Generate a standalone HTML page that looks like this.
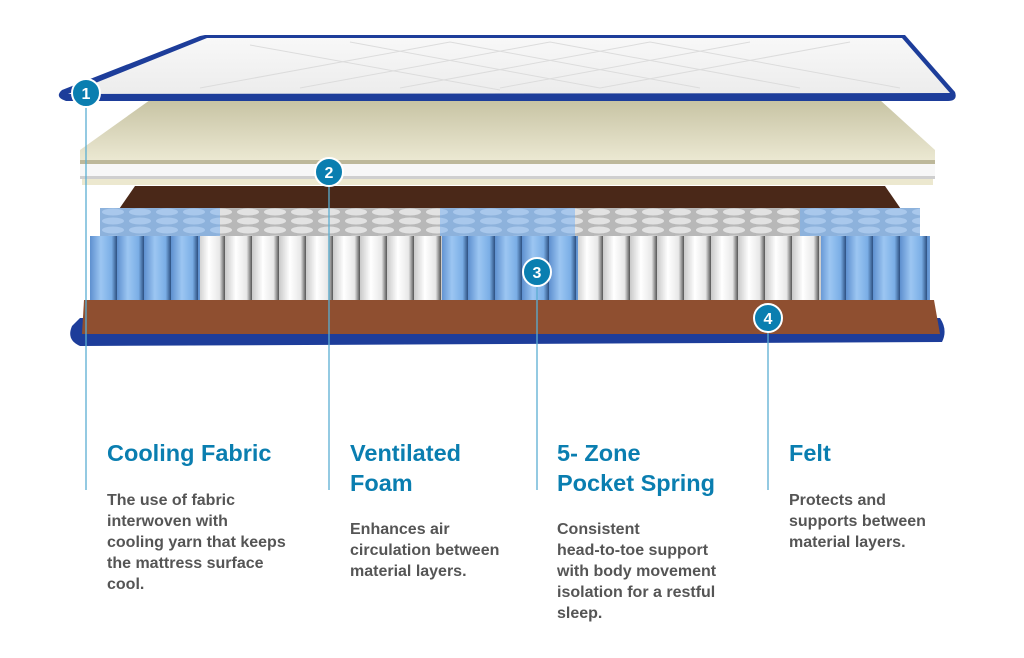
<!DOCTYPE html>
<html><head><meta charset="utf-8"><style>
html,body{margin:0;padding:0;background:#fff;}
body{width:1024px;height:658px;position:relative;overflow:hidden;font-family:"Liberation Sans",sans-serif;}
svg{position:absolute;left:0;top:0;}
.h{position:absolute;color:#0a7eb0;font-weight:bold;font-size:23.5px;line-height:30px;top:438px;}
.p{position:absolute;color:#555;font-weight:bold;font-size:16px;line-height:21px;}
</style></head><body>
<svg width="1024" height="658" viewBox="0 0 1024 658">
<defs>
<linearGradient id="bl" x1="0" x2="1"><stop offset="0" stop-color="#5d8fcf"/><stop offset=".4" stop-color="#9cc6f2"/><stop offset=".8" stop-color="#7aaee6"/><stop offset="1" stop-color="#2d4f80"/></linearGradient>
<linearGradient id="wh" x1="0" x2="1"><stop offset="0" stop-color="#c9c9c9"/><stop offset=".4" stop-color="#ffffff"/><stop offset=".8" stop-color="#e8e8e8"/><stop offset="1" stop-color="#555"/></linearGradient>
<pattern id="pb" width="27" height="100" patternUnits="userSpaceOnUse" x="90"><rect width="27" height="100" fill="url(#bl)"/></pattern>
<pattern id="pw" width="27" height="100" patternUnits="userSpaceOnUse" x="90"><rect width="27" height="100" fill="url(#wh)"/></pattern>
<pattern id="tb" width="27" height="9" patternUnits="userSpaceOnUse" x="100" y="208"><rect width="27" height="9" fill="#8db2dc"/><ellipse cx="13" cy="4" rx="11" ry="3.5" fill="#a9c8ec"/></pattern>
<pattern id="tw" width="27" height="9" patternUnits="userSpaceOnUse" x="100" y="208"><rect width="27" height="9" fill="#b8b8b8"/><ellipse cx="13" cy="4" rx="11" ry="3.5" fill="#e2e2e2"/></pattern>
<linearGradient id="top" x1="0" y1="0" x2="0" y2="1"><stop offset="0" stop-color="#f8f8f8"/><stop offset="1" stop-color="#ececec"/></linearGradient>
<linearGradient id="foam" x1="0" y1="0" x2="0" y2="1"><stop offset="0" stop-color="#c7c3a3"/><stop offset="1" stop-color="#ebe8d2"/></linearGradient>
</defs>
<!-- base navy -->
<path d="M80 318 L940 318 Q948 330 942 342 L80 346 Q66 340 72 326 Z" fill="#1d3d9a"/>
<!-- brown back -->
<path d="M135 186 L885 186 L905 215 L115 215 Z" fill="#4a2818"/>
<!-- springs top faces -->
<rect x="100" y="208" width="120" height="30" fill="url(#tb)"/>
<rect x="220" y="208" width="220" height="30" fill="url(#tw)"/>
<rect x="440" y="208" width="135" height="30" fill="url(#tb)"/>
<rect x="575" y="208" width="225" height="30" fill="url(#tw)"/>
<rect x="800" y="208" width="120" height="30" fill="url(#tb)"/>
<!-- springs front -->
<rect x="90" y="236" width="110" height="66" fill="url(#pb)"/>
<rect x="200" y="236" width="242" height="66" fill="url(#pw)"/>
<rect x="442" y="236" width="136" height="66" fill="url(#pb)"/>
<rect x="578" y="236" width="243" height="66" fill="url(#pw)"/>
<rect x="821" y="236" width="109" height="66" fill="url(#pb)"/>
<!-- brown front -->
<path d="M84 300 L934 300 L940 334 L82 334 Z" fill="#8f4f30"/>
<!-- foam -->
<path d="M150 100 L880 100 L935 150 L935 160 L80 160 L80 150 Z" fill="url(#foam)"/>
<rect x="80" y="160" width="855" height="4" fill="#bdb89a"/>
<rect x="80" y="164" width="855" height="15" fill="#f7f7f7"/>
<rect x="80" y="176" width="855" height="3" fill="#cfcfcf"/>
<rect x="82" y="179" width="851" height="6" fill="#ece8cf"/>
<!-- top cover -->
<path d="M205 35 L905 35 L955 92 Q958 101 948 101 L66 101 Q54 97 62 90 L200 36 Z" fill="#1d3d9a"/>
<path d="M207 38 L902 38 L950 93 L68 94 Z" fill="url(#top)"/>
<g stroke="#dcdcdc" stroke-width="1" fill="none">
<path d="M250 45 L500 90 M350 42 L600 88 M450 42 L700 88 M550 42 L800 88 M650 42 L900 88"/>
<path d="M300 88 L550 42 M400 88 L650 42 M500 88 L750 42 M600 88 L850 42 M200 88 L450 42"/>
</g>
<!-- markers -->
<g stroke="#5aaed2" stroke-width="1.3">
<line x1="86" y1="93" x2="86" y2="490"/>
<line x1="329" y1="172" x2="329" y2="490"/>
<line x1="537" y1="272" x2="537" y2="490"/>
<line x1="768" y1="318" x2="768" y2="490"/>
</g>
<g fill="#0a7eb0" stroke="#fff" stroke-width="2">
<circle cx="86" cy="93" r="14"/><circle cx="329" cy="172" r="14"/><circle cx="537" cy="272" r="14"/><circle cx="768" cy="318" r="14"/>
</g>
<g fill="#fff" font-family="Liberation Sans" font-weight="bold" font-size="16" text-anchor="middle">
<text x="86" y="99">1</text><text x="329" y="178">2</text><text x="537" y="278">3</text><text x="768" y="324">4</text>
</g>
</svg>
<div class="h" style="left:107px">Cooling Fabric</div>
<div class="h" style="left:350px">Ventilated<br>Foam</div>
<div class="h" style="left:557px">5- Zone<br>Pocket Spring</div>
<div class="h" style="left:789px">Felt</div>
<div class="p" style="left:107px;top:490px">The use of fabric<br>interwoven with<br>cooling yarn that keeps<br>the mattress surface<br>cool.</div>
<div class="p" style="left:350px;top:519px">Enhances air<br>circulation between<br>material layers.</div>
<div class="p" style="left:557px;top:519px">Consistent<br>head-to-toe support<br>with body movement<br>isolation for a restful<br>sleep.</div>
<div class="p" style="left:789px;top:490px">Protects and<br>supports between<br>material layers.</div>
</body></html>
